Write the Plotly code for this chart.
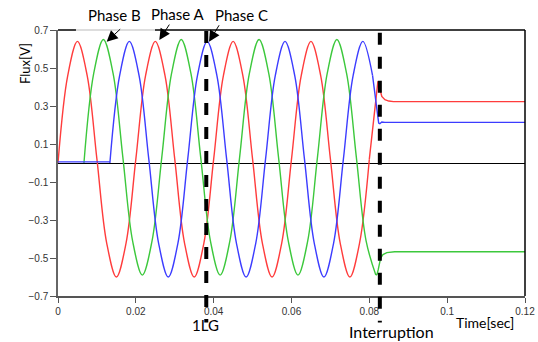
import plotly.graph_objects as go

# ---------------- data ----------------
sample_step = 0.0025  # s between samples of the sinusoidal part

# Phase A (red) sinusoid, starts at t = 0
red_start = 0.0
red_flux = [0.00, 0.46, 0.64, 0.46, 0.02, -0.42, -0.60, -0.42,
            0.02, 0.46, 0.64, 0.46, 0.02, -0.42, -0.60, -0.42,
            0.02, 0.46, 0.64, 0.46, 0.02, -0.42, -0.60, -0.42,
            0.02, 0.46, 0.64, 0.46, 0.02, -0.42, -0.60, -0.42,
            0.02]
# Phase B (green) sinusoid, starts at t = 1/150 s
green_start = 0.006667
green_flux = [0.00, 0.47, 0.65, 0.47, 0.03, -0.41, -0.59, -0.41,
              0.03, 0.47, 0.65, 0.47, 0.03, -0.41, -0.59, -0.41,
              0.03, 0.47, 0.65, 0.47, 0.03, -0.41, -0.59, -0.41,
              0.03, 0.47, 0.65, 0.47, 0.03, -0.41, -0.59]
# Phase C (blue) sinusoid, starts at t = 2/150 s
blue_start = 0.013333
blue_flux = [0.00, 0.46, 0.64, 0.46, 0.02, -0.42, -0.60, -0.42,
             0.02, 0.46, 0.64, 0.46, 0.02, -0.42, -0.60, -0.42,
             0.02, 0.46, 0.64, 0.46, 0.02, -0.42, -0.60, -0.42,
             0.02, 0.46, 0.64, 0.46]

# before energisation (flat at zero)
pre_time = [0.0, 0.013333]
pre_flux = [0.006, 0.006]

# after interruption (residual flux)
red_post_time = [0.0800, 0.0811, 0.0822, 0.0826, 0.0832, 0.0840, 0.0850, 0.0862, 0.1200]
red_post_flux = [0.02, 0.23, 0.43, 0.40, 0.35, 0.333, 0.326, 0.323, 0.323]
green_post_time = [0.081667, 0.0820, 0.0823, 0.0826, 0.0829, 0.0835, 0.0845, 0.0865, 0.1200]
green_post_flux = [-0.59, -0.585, -0.56, -0.52, -0.50, -0.482, -0.472, -0.467, -0.467]
blue_post_time = [0.080833, 0.0815, 0.0820, 0.0824, 0.0827, 0.0832, 0.0840, 0.1200]
blue_post_flux = [0.46, 0.36, 0.27, 0.21, 0.207, 0.216, 0.214, 0.214]

event_times = [0.0381, 0.0827]
event_labels = ["1LG", "Interruption"]

x_ticks = [0, 0.02, 0.04, 0.06, 0.08, 0.10, 0.12]
x_tick_text = ["0", "0.02", "0.04", "0.06", "0.08", "0.1", "0.12"]
y_ticks = [-0.7, -0.5, -0.3, -0.1, 0.1, 0.3, 0.5, 0.7]
y_tick_text = ["\u22120.7", "\u22120.5", "\u22120.3", "\u22120.1", "0.1", "0.3", "0.5", "0.7"]

phase_labels = ["Phase B", "Phase A", "Phase C"]
# points the arrows of the phase labels point at (time, flux)
arrow_targets = [(0.01251, 0.638), (0.02603, 0.647), (0.0388, 0.638)]

RED, GREEN, BLUE = "#ff3c3c", "#3cc83c", "#3c3cff"


def times(start, n):
    return [start + k * sample_step for k in range(n)]


fig = go.Figure()
LW = 1.4
fig.add_trace(go.Scatter(x=times(red_start, len(red_flux)), y=red_flux, mode="lines",
                         line=dict(color=RED, width=LW, shape="spline")))
fig.add_trace(go.Scatter(x=red_post_time, y=red_post_flux, mode="lines",
                         line=dict(color=RED, width=LW)))
fig.add_trace(go.Scatter(x=times(green_start, len(green_flux)), y=green_flux, mode="lines",
                         line=dict(color=GREEN, width=LW, shape="spline")))
fig.add_trace(go.Scatter(x=green_post_time, y=green_post_flux, mode="lines",
                         line=dict(color=GREEN, width=LW)))
fig.add_trace(go.Scatter(x=times(blue_start, len(blue_flux)), y=blue_flux, mode="lines",
                         line=dict(color=BLUE, width=LW, shape="spline")))
fig.add_trace(go.Scatter(x=blue_post_time, y=blue_post_flux, mode="lines",
                         line=dict(color=BLUE, width=LW)))
fig.add_trace(go.Scatter(x=pre_time, y=pre_flux, mode="lines",
                         line=dict(color=BLUE, width=LW)))

tickfont = dict(family="Liberation Sans, Arial", size=10, color="#333")
fig.update_xaxes(range=[0, 0.12], tickvals=x_ticks, ticktext=x_tick_text,
                 showline=True, linecolor="#555", linewidth=1.5, automargin=False,
                 ticks="outside", ticklen=5, tickcolor="#555", tickwidth=1,
                 tickfont=tickfont, showgrid=False, zeroline=False)
fig.update_yaxes(range=[-0.7, 0.7], tickvals=y_ticks, ticktext=y_tick_text,
                 showline=True, linecolor="#666", linewidth=1.5, automargin=False,
                 ticks="outside", ticklen=6, tickcolor="#555", tickwidth=1,
                 tickfont=tickfont, showgrid=False,
                 zeroline=True, zerolinecolor="black", zerolinewidth=1)

shapes = [
    # top border (partially light)
    dict(type="line", xref="paper", yref="paper", x0=0, x1=0.0385, y0=1, y1=1,
         line=dict(color="black", width=1.5)),
    dict(type="line", xref="paper", yref="paper", x0=0.0385, x1=0.2077, y0=1, y1=1,
         line=dict(color="#bbb", width=1)),
    dict(type="line", xref="paper", yref="paper", x0=0.2077, x1=1, y0=1, y1=1,
         line=dict(color="black", width=1.5)),
    # right border
    dict(type="line", xref="paper", yref="paper", x0=1, x1=1, y0=0, y1=1,
         line=dict(color="black", width=1.5)),
]
for t, top in zip(event_times, [0.996, 0.99]):
    shapes.append(dict(type="line", xref="x", yref="paper", x0=t, x1=t, y0=top, y1=-0.10,
                       line=dict(color="black", width=4, dash="12px,12px"), layer="above"))
fig.update_layout(shapes=shapes)

label_font = dict(family="Lato, Open Sans, sans-serif", size=15, color="black")
ann = []
label_pos = [(0.122, 1.0564), (0.257, 1.060), (0.394, 1.0564)]
arrow_offsets = [(15, -14), (11, -17), (11, -18)]
for lab, (px, py) in zip(phase_labels, label_pos):
    ann.append(dict(text=lab, xref="paper", yref="paper", x=px, y=py, showarrow=False,
                    xanchor="center", yanchor="middle", font=label_font))
for (tx, ty), (ax, ay) in zip(arrow_targets, arrow_offsets):
    ann.append(dict(text="", x=tx, y=ty, xref="x", yref="y", showarrow=True,
                    ax=ax, ay=ay, arrowhead=2, arrowsize=2.2, arrowwidth=1,
                    arrowcolor="black", standoff=0))
ann.append(dict(text=event_labels[0], xref="paper", yref="paper", x=0.316, y=-0.109,
                showarrow=False, xanchor="center", yanchor="middle", font=label_font))
ann.append(dict(text=event_labels[1], xref="paper", yref="paper", x=0.715, y=-0.1316,
                showarrow=False, xanchor="center", yanchor="middle",
                font=dict(label_font, size=16)))
ann.append(dict(text="Time[sec]", xref="paper", yref="paper", x=0.914, y=-0.1015,
                showarrow=False, xanchor="center", yanchor="middle",
                font=dict(label_font, size=14)))
ann.append(dict(text="Flux[V]", xref="paper", yref="paper", x=-0.0707, y=0.876,
                showarrow=False, xanchor="center", yanchor="middle", textangle=-90,
                font=dict(label_font, size=13)))

fig.update_layout(annotations=ann, width=538, height=342,
                  margin=dict(l=58, r=13, t=30, b=46),
                  plot_bgcolor="white", paper_bgcolor="white", showlegend=False)

# remove the default page margin so the 538x342 figure fills the window exactly
fig.write_html("out.html", config={"displayModeBar": False},
               post_script="document.body.style.margin='0';"
                           "document.body.style.overflow='hidden';")
